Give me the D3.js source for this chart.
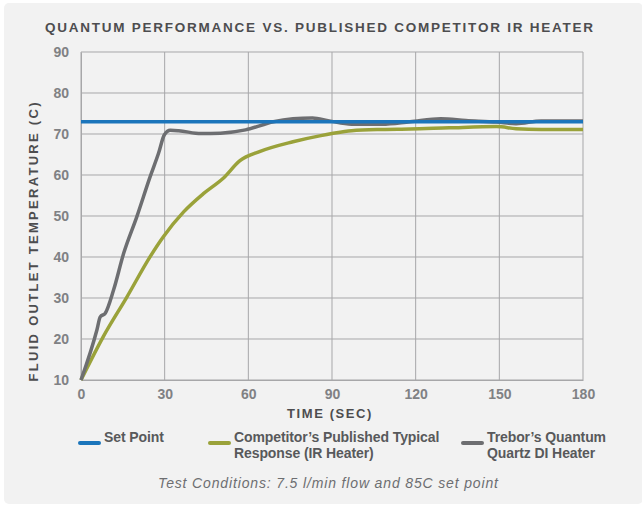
<!DOCTYPE html>
<html>
<head>
<meta charset="utf-8">
<script src="https://cdn.jsdelivr.net/npm/d3@7"></script>
<style>
  body { margin: 0; background: #fff; }
  svg { display: block; font-family: "Liberation Sans", Arial, sans-serif; }
</style>
</head>
<body>
<div id="chart"></div>
<script>
// data
var setPoint = 73;
var setTime = [0, 180];

var compTime = [0, 8, 16.5, 24.8, 29.6, 36.8, 44, 51, 57, 64, 76, 86, 90, 97, 108, 118, 132, 149, 156, 165, 180];
var compTemp = [10, 20.6, 30.3, 40.1, 45, 51, 55.5, 59.2, 63.5, 65.7, 68.1, 69.6, 70.1, 70.8, 71.1, 71.2, 71.5, 71.8, 71.3, 71.1, 71.1];

var trebTime = [0, 5.7, 6.9, 8.7, 11.7, 15.3, 20, 24.8, 27.8, 29.9, 32, 35, 43, 50, 59, 69, 76, 83, 89, 97, 108, 118, 129, 138, 149, 156, 165, 180];
var trebTemp = [10, 22.2, 25.4, 26.3, 32, 40.9, 49.8, 59.6, 65.3, 69.8, 70.9, 70.8, 70.1, 70.2, 71, 73, 73.7, 73.9, 73.2, 72.4, 72.4, 73, 73.7, 73.3, 72.9, 72.5, 73.2, 73.2];

var xTicks = [0, 30, 60, 90, 120, 150, 180];
var yTicks = [10, 20, 30, 40, 50, 60, 70, 80, 90];

var blue = "#1b75bb", olive = "#9aa23a", grey = "#6d6e71";

var W = 642, H = 506;
var margin = {top: 52, right: 59, bottom: 126, left: 81};
var width = W - margin.left - margin.right,
    height = H - margin.top - margin.bottom;

var svg = d3.select("#chart").append("svg")
    .attr("width", W).attr("height", H);

// panel
svg.append("rect")
    .attr("x", 4).attr("y", 3).attr("width", W - 3).attr("height", H - 5)
    .attr("rx", 5).attr("fill", "#f2f2f2");

svg.append("text")
    .attr("x", 319).attr("y", 32)
    .attr("text-anchor", "middle")
    .attr("font-size", 13.5).attr("font-weight", "bold")
    .attr("fill", "#4d4d4f")
    .attr("textLength", 548).attr("lengthAdjust", "spacing")
    .text("QUANTUM PERFORMANCE VS. PUBLISHED COMPETITOR IR HEATER");

var g = svg.append("g")
    .attr("transform", "translate(" + margin.left + "," + margin.top + ")");

var x = d3.scaleLinear().domain([0, 180]).range([0, width]);
var y = d3.scaleLinear().domain([10, 90]).range([height, 0]);

// grid
g.append("g").selectAll("line").data(yTicks).join("line")
    .attr("x1", 0).attr("x2", width)
    .attr("y1", d => y(d)).attr("y2", d => y(d))
    .attr("stroke", "#a7a7a9").attr("stroke-width", 1);
g.append("g").selectAll("line").data(xTicks).join("line")
    .attr("x1", d => x(d)).attr("x2", d => x(d))
    .attr("y1", 0).attr("y2", height)
    .attr("stroke", "#a7a7a9").attr("stroke-width", 1);

// axes
var xAxis = g.append("g")
    .attr("transform", "translate(0," + height + ")")
    .call(d3.axisBottom(x).tickValues(xTicks).tickSize(0).tickPadding(9));
var yAxis = g.append("g")
    .call(d3.axisLeft(y).tickValues(yTicks).tickSize(0).tickPadding(12));
[xAxis, yAxis].forEach(function(a) {
  a.select(".domain").attr("stroke", "#a7a7a9");
  a.selectAll("text")
    .attr("font-size", 14).attr("font-weight", "bold")
    .attr("fill", "#808184")
    .attr("font-family", "Liberation Sans, Arial, sans-serif");
});

svg.append("text")
    .attr("x", 330).attr("y", 418)
    .attr("text-anchor", "middle")
    .attr("font-size", 13).attr("font-weight", "bold")
    .attr("fill", "#4d4d4f").attr("letter-spacing", 1.6)
    .text("TIME (SEC)");

svg.append("text")
    .attr("transform", "translate(38,242) rotate(-90)")
    .attr("text-anchor", "middle")
    .attr("font-size", 13).attr("font-weight", "bold")
    .attr("fill", "#4d4d4f")
    .attr("textLength", 279).attr("lengthAdjust", "spacing")
    .text("FLUID OUTLET TEMPERATURE (C)");

// lines
var line = d3.line()
    .x(d => x(d[0]))
    .y(d => y(d[1]))
    .curve(d3.curveMonotoneX);

g.append("path")
    .datum(d3.zip(compTime, compTemp))
    .attr("fill", "none").attr("stroke", olive).attr("stroke-width", 3.5)
    .attr("d", line);

g.append("path")
    .datum(d3.zip(trebTime, trebTemp))
    .attr("fill", "none").attr("stroke", grey).attr("stroke-width", 3.5)
    .attr("d", line);

g.append("path")
    .datum(setTime.map(t => [t, setPoint]))
    .attr("fill", "none").attr("stroke", blue).attr("stroke-width", 3.5)
    .attr("d", line);

// legend
var legend = [
  {c: blue, x: 80, lines: ["Set Point"]},
  {c: olive, x: 210, lines: ["Competitor\u2019s Published Typical", "Response (IR Heater)"]},
  {c: grey, x: 463, lines: ["Trebor\u2019s Quantum", "Quartz DI Heater"]}
];
var lg = svg.append("g").selectAll("g").data(legend).join("g");
lg.append("line")
    .attr("x1", d => d.x).attr("x2", d => d.x + 19)
    .attr("y1", 443).attr("y2", 443)
    .attr("stroke", d => d.c).attr("stroke-width", 4)
    .attr("stroke-linecap", "round");
lg.append("text")
    .attr("x", d => d.x + 24).attr("y", 442)
    .attr("font-size", 14).attr("font-weight", "bold")
    .attr("fill", "#58595b").attr("letter-spacing", -0.1)
    .selectAll("tspan").data(d => d.lines.map(t => ({t: t, x: d.x + 24}))).join("tspan")
    .attr("x", d => d.x).attr("dy", (d, i) => i ? 16 : 0)
    .text(d => d.t);

svg.append("text")
    .attr("x", 328).attr("y", 488)
    .attr("text-anchor", "middle")
    .attr("font-size", 14).attr("font-style", "italic")
    .attr("fill", "#6d6e71")
    .attr("textLength", 340).attr("lengthAdjust", "spacing")
    .text("Test Conditions: 7.5 l/min flow and 85C set point");
</script>
</body>
</html>
